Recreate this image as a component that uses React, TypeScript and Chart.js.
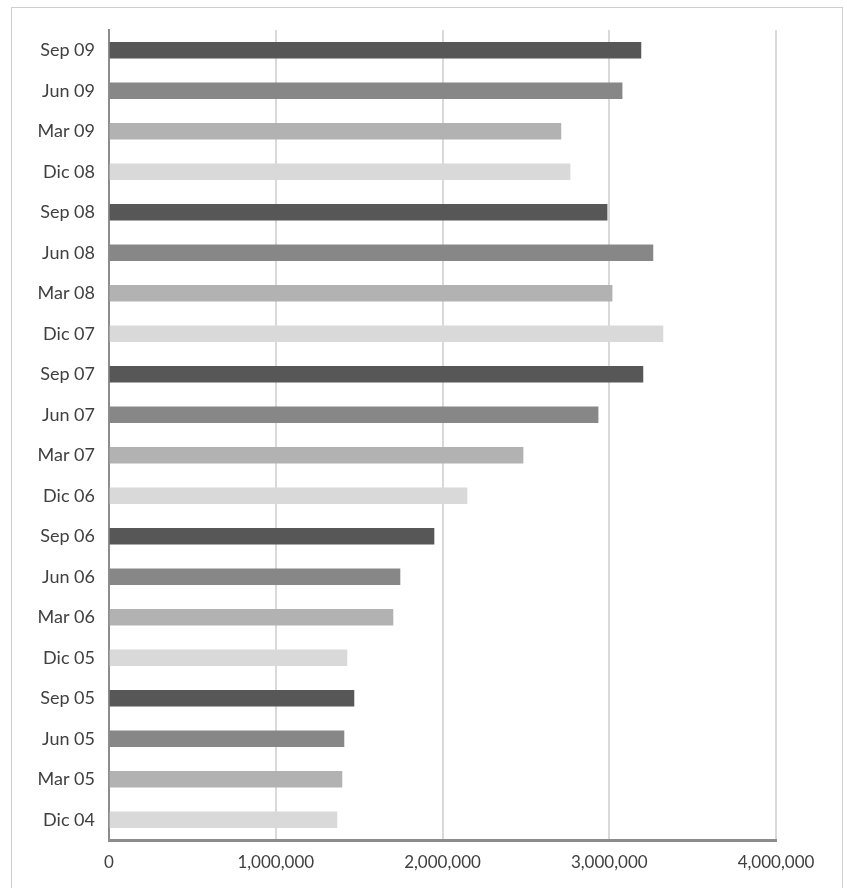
import React, { useEffect, useRef } from "react";
import { Chart, registerables } from "chart.js";

Chart.register(...registerables);

const categories = [
  "Sep 09", "Jun 09", "Mar 09", "Dic 08",
  "Sep 08", "Jun 08", "Mar 08", "Dic 07",
  "Sep 07", "Jun 07", "Mar 07", "Dic 06",
  "Sep 06", "Jun 06", "Mar 06", "Dic 05",
  "Sep 05", "Jun 05", "Mar 05", "Dic 04",
];

const values = [
  3190000, 3077000, 2710000, 2765000,
  2987000, 3262000, 3017000, 3322000,
  3202000, 2933000, 2483000, 2147000,
  1949000, 1745000, 1703000, 1427000,
  1469000, 1409000, 1397000, 1367000,
];

const quarterColors: Record<string, string> = {
  Sep: "#575757",
  Jun: "#878787",
  Mar: "#b2b2b2",
  Dic: "#d9d9d9",
};

const xTicks = [0, 1000000, 2000000, 3000000, 4000000];

export default function App() {
  const ref = useRef<HTMLCanvasElement | null>(null);

  useEffect(() => {
    if (!ref.current) return;
    const colors = categories.map((c) => quarterColors[c.slice(0, 3)]);
    const chart = new Chart(ref.current, {
      type: "bar",
      data: {
        labels: categories,
        datasets: [
          {
            data: values,
            backgroundColor: colors,
            borderWidth: 0,
            barThickness: 16,
          },
        ],
      },
      options: {
        indexAxis: "y",
        animation: false,
        responsive: false,
        maintainAspectRatio: false,
        layout: { padding: { left: 0, right: 71, top: 30, bottom: 0 } },
        plugins: { legend: { display: false }, tooltip: { enabled: false } },
        scales: {
          x: {
            min: 0,
            max: 4000000,
            afterBuildTicks: (scale: any) => {
              scale.ticks = xTicks.map((v) => ({ value: v }));
            },
            afterFit: (scale: any) => {
              scale.height = 48;
            },
            grid: { color: "#d9d9d9", lineWidth: 2, drawTicks: false },
            border: { display: true, color: "#8c8c8c", width: 3 },
            ticks: {
              color: "#404040",
              font: { family: "Lato", size: 17 },
              padding: 12,
              callback: (v: any) => Number(v).toLocaleString("en-US"),
            },
          },
          y: {
            afterFit: (scale: any) => {
              scale.width = 109;
            },
            grid: { display: false, drawTicks: false },
            border: { display: true, color: "#8c8c8c", width: 2 },
            ticks: { color: "#404040", font: { family: "Lato", size: 18 }, padding: 14 },
          },
        },
      },
    });
    return () => chart.destroy();
  }, []);

  return (
    <div style={{ position: "fixed", left: 0, top: 0, width: 847, height: 888, background: "#fff", overflow: "hidden" }}>
      <div
        style={{
          position: "absolute",
          left: 11,
          top: 7,
          width: 830,
          height: 900,
          border: "1px solid #cfcfcf",
        }}
      />
      <canvas ref={ref} width={847} height={888} style={{ position: "absolute", left: 0, top: 0 }} />
    </div>
  );
}
